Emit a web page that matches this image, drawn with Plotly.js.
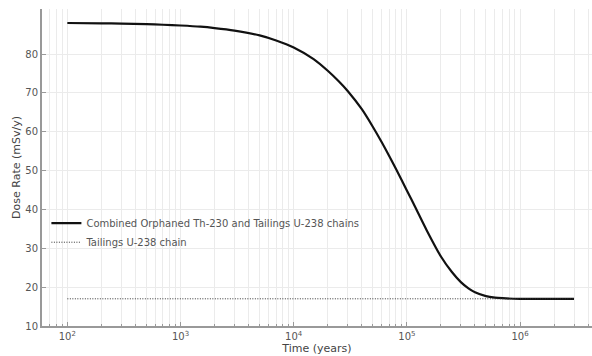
<!DOCTYPE html>
<html>
<head>
<meta charset="utf-8">
<script src="https://cdn.plot.ly/plotly-3.0.1.min.js"></script>
<style>html,body{margin:0;padding:0;background:#fff;}#chart{width:592px;height:356px;}</style>
</head>
<body>
<div id="chart"></div>
<script>
// Time (years)
const timeYears = [100, 200, 300, 500, 700, 1000, 1500, 2000, 3000, 5000, 7000, 10000, 15000, 20000, 25000, 30000, 40000, 50000, 60000, 70000, 80000, 100000, 120000, 150000, 200000, 250000, 300000, 350000, 400000, 500000, 600000, 700000, 1000000, 2000000, 3000000];
// Combined Orphaned Th-230 and Tailings U-238 chains (mSv/y)
const combinedDose = [88.0, 87.9, 87.85, 87.7, 87.55, 87.35, 87.05, 86.7, 86.05, 84.8, 83.5, 81.7, 78.7, 75.7, 73.0, 70.5, 65.8, 61.3, 57.3, 53.7, 50.5, 44.9, 40.3, 34.6, 27.9, 23.9, 21.3, 19.7, 18.7, 17.7, 17.3, 17.15, 17.0, 17.0, 17.0];
// Tailings U-238 chain (mSv/y)
const tailingsTime = [100, 3000000];
const tailingsDose = [17.0, 17.0];

const seriesNames = ["Combined Orphaned Th-230 and Tailings U-238 chains", "Tailings U-238 chain"];
const xTickVals = [100, 1000, 10000, 100000, 1000000];
const xTickText = ["10<sup>2</sup>", "10<sup>3</sup>", "10<sup>4</sup>", "10<sup>5</sup>", "10<sup>6</sup>"];
const yTickVals = [10, 20, 30, 40, 50, 60, 70, 80];

const font = {family: "DejaVu Sans, sans-serif", size: 10, color: "#555"};
const gridColor = "#ebebeb";

const traces = [
  {x: timeYears, y: combinedDose, name: seriesNames[0], mode: "lines",
   line: {color: "#111", width: 2.2, shape: "spline", smoothing: 0.7}},
  {x: tailingsTime, y: tailingsDose, name: seriesNames[1], mode: "lines",
   line: {color: "#333", width: 1, dash: "1px,1.5px"}}
];

const layout = {
  width: 592, height: 356,
  margin: {l: 42, r: 0, t: 9, b: 30},
  paper_bgcolor: "#fff", plot_bgcolor: "#fff",
  font: font,
  showlegend: true,
  legend: {x: 0.008, y: 0.37, xanchor: "left", yanchor: "top", bgcolor: "rgba(255,255,255,0)",
           font: {family: "DejaVu Sans, sans-serif", size: 10, color: "#555"}, tracegroupgap: 0},
  xaxis: {
    type: "log", range: [1.776, 6.636],
    tickvals: xTickVals, ticktext: xTickText,
    showline: true, linecolor: "#999", linewidth: 2,
    ticks: "inside", ticklen: 4, tickcolor: "#999",
    showgrid: true, gridcolor: gridColor, gridwidth: 1, zeroline: false,
    minor: {dtick: "D1", showgrid: true, gridcolor: gridColor, ticks: "inside", ticklen: 2, tickcolor: "#999"},
    title: {text: "Time (years)", font: {family: "DejaVu Sans, sans-serif", size: 11, color: "#444"}, standoff: 1},
    tickfont: {family: "DejaVu Sans, sans-serif", size: 10, color: "#555"}
  },
  yaxis: {
    range: [10, 91.6],
    tickvals: yTickVals,
    showline: true, linecolor: "#999", linewidth: 2,
    ticks: "inside", ticklen: 4, tickcolor: "#999",
    showgrid: true, gridcolor: gridColor, gridwidth: 1, zeroline: false,
    title: {text: "Dose Rate (mSv/y)", font: {family: "DejaVu Sans, sans-serif", size: 11, color: "#444"}, standoff: 2},
    tickfont: {family: "DejaVu Sans, sans-serif", size: 10, color: "#555"}
  }
};

Plotly.newPlot("chart", traces, layout, {displayModeBar: false, staticPlot: true});
</script>
</body>
</html>
